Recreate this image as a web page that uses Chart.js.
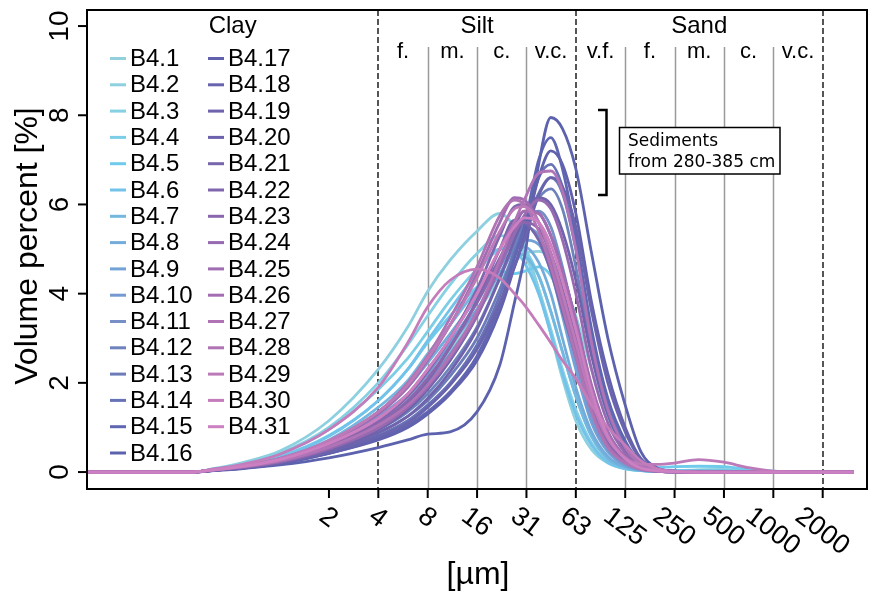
<!DOCTYPE html>
<html>
<head>
<meta charset="utf-8">
<title>Grain size distribution B4</title>
<script src="https://cdn.jsdelivr.net/npm/chart.js@4.4.1/dist/chart.umd.min.js"></script>
<style>
  body { margin: 0; background: #fff; }
</style>
</head>
<body>
<canvas id="grainChart" width="872" height="594"></canvas>
<script>
// --- Data ---
// grain size (µm) at which the volume percent is sampled
const sizes = [0.0654, 0.29, 0.39, 0.59, 0.98, 1.95, 3.9, 5.9, 7.8, 10.7, 15.6, 21.5, 26.4, 30.3, 37.1, 44, 51.8, 62.5, 78, 98, 125, 156, 195, 250, 350, 500, 700, 1000, 2000, 3100];

const B4_1  = [0,0,0.05,0.13,0.26,0.6,1.15,1.65,2.1,2.75,3.6,4.3,4.7,4.9,4.95,4.8,4.3,3.5,2.3,1.2,0.5,0.15,0.05,0.03,0.05,0.06,0.03,0,0,0];
const B4_2  = [0,0,0.08,0.22,0.47,1.15,2.3,3.25,4.05,4.75,5.4,5.8,5.5,5.1,4.1,3.1,2.1,1.15,0.5,0.2,0.07,0.03,0.02,0.02,0.01,0,0,0,0,0];
const B4_3  = [0,0,0.07,0.19,0.42,1.0,2.0,2.85,3.5,4.2,4.9,5.3,5.2,4.9,4.1,3.2,2.3,1.4,0.65,0.25,0.09,0.03,0.02,0.02,0.02,0.02,0.01,0,0,0];
const B4_4  = [0,0,0.07,0.18,0.4,0.95,1.85,2.55,3.15,3.85,4.55,5.0,5.1,5.0,4.4,3.6,2.7,1.7,0.8,0.3,0.1,0.04,0.03,0.03,0.04,0.04,0.02,0,0,0];
const B4_5  = [0,0,0.06,0.16,0.35,0.82,1.6,2.3,2.9,3.5,4.15,4.5,4.45,4.5,4.6,4.4,3.8,2.9,1.7,0.8,0.3,0.12,0.1,0.12,0.13,0.12,0.06,0.02,0,0];
const B4_6  = [0,0,0.06,0.16,0.34,0.8,1.6,2.3,2.95,3.65,4.45,5.0,4.95,4.7,4.0,3.1,2.2,1.3,0.6,0.22,0.08,0.03,0.02,0.02,0.02,0.02,0.01,0,0,0];
const B4_7  = [0,0,0.06,0.14,0.31,0.72,1.45,2.05,2.65,3.3,4.1,4.7,4.9,4.85,4.4,3.6,2.7,1.7,0.8,0.3,0.1,0.04,0.02,0.02,0.02,0.02,0.01,0,0,0];
const B4_8  = [0,0,0.05,0.13,0.29,0.68,1.35,1.9,2.45,3.1,3.9,4.6,5.0,5.05,4.7,4.0,3.0,1.9,0.9,0.35,0.12,0.04,0.02,0.02,0.02,0.01,0,0,0,0];
const B4_9  = [0,0,0.05,0.13,0.28,0.64,1.25,1.75,2.25,2.85,3.65,4.45,5.0,5.2,5.1,4.5,3.5,2.3,1.1,0.45,0.15,0.05,0.02,0.01,0.01,0,0,0,0,0];
const B4_10 = [0,0,0.05,0.12,0.27,0.62,1.2,1.7,2.2,2.9,3.8,4.75,5.35,5.5,5.3,4.7,3.7,2.5,1.2,0.5,0.17,0.05,0.02,0.01,0,0,0,0,0,0];
const B4_11 = [0,0,0.05,0.12,0.25,0.56,1.05,1.5,2.0,2.65,3.55,4.6,5.3,5.7,5.85,5.5,4.6,3.3,1.7,0.7,0.25,0.07,0.02,0.01,0,0,0,0,0,0];
const B4_12 = [0,0,0.04,0.11,0.23,0.52,0.95,1.35,1.75,2.35,3.25,4.35,5.1,5.6,6.15,6.35,5.9,4.6,2.7,1.3,0.5,0.15,0.04,0.01,0,0,0,0,0,0];
const B4_13 = [0,0,0.04,0.1,0.21,0.48,0.88,1.25,1.6,2.15,3.0,4.1,4.95,5.5,6.25,6.6,6.25,5.0,3.0,1.5,0.6,0.18,0.05,0.01,0,0,0,0,0,0];
const B4_14 = [0,0,0.04,0.1,0.2,0.45,0.82,1.15,1.5,2.0,2.85,3.95,4.9,5.5,6.6,6.9,6.4,5.1,3.1,1.6,0.65,0.2,0.05,0.01,0,0,0,0,0,0];
const B4_15 = [0,0,0.04,0.09,0.19,0.42,0.75,1.05,1.35,1.8,2.6,3.75,4.8,5.5,7.0,7.5,6.8,5.3,3.2,1.65,0.7,0.22,0.06,0.01,0,0,0,0,0,0];
const B4_16 = [0,0,0.03,0.08,0.16,0.32,0.55,0.72,0.85,0.9,1.35,2.4,3.8,4.8,6.9,7.95,7.7,6.8,4.9,3.0,1.5,0.45,0.1,0.02,0,0,0,0,0,0];
const B4_17 = [0,0,0.04,0.09,0.19,0.42,0.72,1.0,1.3,1.75,2.5,3.6,4.6,5.3,6.6,7.2,6.9,5.8,3.8,2.2,1.0,0.3,0.08,0.02,0,0,0,0,0,0];
const B4_18 = [0,0,0.04,0.1,0.2,0.45,0.8,1.1,1.45,1.95,2.75,3.8,4.6,5.2,6.2,6.6,6.4,5.5,3.6,2.0,0.9,0.28,0.07,0.02,0,0,0,0,0,0];
const B4_19 = [0,0,0.04,0.1,0.21,0.48,0.88,1.25,1.65,2.25,3.2,4.35,5.2,5.7,6.15,6.0,5.4,4.3,2.6,1.3,0.5,0.15,0.04,0.01,0,0,0,0,0,0];
const B4_20 = [0,0,0.05,0.11,0.23,0.52,0.95,1.4,1.85,2.5,3.5,4.7,5.5,5.85,5.8,5.3,4.5,3.4,1.9,0.9,0.33,0.1,0.03,0.01,0,0,0,0,0,0];
const B4_21 = [0,0,0.05,0.12,0.25,0.56,1.05,1.55,2.05,2.8,3.85,5.0,5.65,5.6,5.2,4.5,3.6,2.6,1.4,0.6,0.22,0.07,0.02,0,0,0,0,0,0,0];
const B4_22 = [0,0,0.05,0.12,0.26,0.6,1.15,1.7,2.25,3.0,4.1,5.3,5.95,6.0,5.6,4.9,3.9,2.8,1.5,0.65,0.24,0.07,0.02,0,0,0,0,0,0,0];
const B4_23 = [0,0,0.05,0.12,0.25,0.57,1.1,1.6,2.1,2.8,3.8,4.8,5.4,5.6,5.45,4.9,4.1,3.0,1.7,0.75,0.28,0.08,0.02,0,0,0,0,0,0,0];
const B4_24 = [0,0,0.05,0.11,0.23,0.52,0.98,1.45,1.9,2.55,3.5,4.6,5.35,5.75,6.1,5.9,5.2,4.0,2.3,1.1,0.42,0.13,0.03,0.01,0,0,0,0,0,0];
const B4_25 = [0,0,0.06,0.14,0.3,0.68,1.3,1.9,2.5,3.3,4.45,5.6,6.15,6.1,5.6,4.8,3.8,2.7,1.4,0.6,0.22,0.07,0.02,0,0,0,0,0,0,0];
const B4_26 = [0,0,0.05,0.13,0.27,0.62,1.2,1.75,2.3,3.0,4.0,5.0,5.6,5.85,5.8,5.3,4.5,3.4,1.95,0.9,0.33,0.1,0.03,0.01,0,0,0,0,0,0];
const B4_27 = [0,0,0.05,0.12,0.25,0.56,1.05,1.5,1.95,2.6,3.6,4.75,5.6,6.1,6.7,6.75,6.3,5.0,2.9,1.4,0.55,0.17,0.04,0.01,0,0,0,0,0,0];
const B4_28 = [0,0,0.06,0.14,0.3,0.7,1.35,2.0,2.6,3.45,4.6,5.75,6.1,6.0,5.4,4.6,3.7,2.6,1.35,0.55,0.2,0.06,0.02,0,0,0,0,0,0,0];
const B4_29 = [0,0,0.06,0.14,0.3,0.7,1.35,1.95,2.55,3.3,4.35,5.4,5.9,5.95,5.6,4.9,4.0,2.9,1.6,0.75,0.32,0.18,0.17,0.2,0.28,0.22,0.1,0.02,0,0];
const B4_30 = [0,0,0.07,0.18,0.4,0.95,1.9,2.9,3.7,4.3,4.55,4.35,4.0,3.75,3.3,2.9,2.5,2.1,1.5,1.0,0.6,0.25,0.08,0.02,0,0,0,0,0,0];
const B4_31 = [0,0,0.05,0.13,0.28,0.64,1.2,1.75,2.3,3.0,4.0,5.0,5.5,5.7,5.6,5.1,4.3,3.2,1.8,0.8,0.3,0.09,0.03,0.01,0,0,0,0,0,0];

const seriesValues = [B4_1, B4_2, B4_3, B4_4, B4_5, B4_6, B4_7, B4_8, B4_9, B4_10, B4_11, B4_12, B4_13, B4_14, B4_15, B4_16,
                      B4_17, B4_18, B4_19, B4_20, B4_21, B4_22, B4_23, B4_24, B4_25, B4_26, B4_27, B4_28, B4_29, B4_30, B4_31];
const sampleLabels = seriesValues.map((_, i) => 'B4.' + (i + 1));
const sampleColors = ['#92d0dc', '#8dd0df', '#85d0e2', '#7ccee6', '#6ecbec', '#72c2ea', '#74b8e0', '#73acdb',
                      '#72a2d6', '#7599d0', '#778fc6', '#6e83bb', '#6d7cb9', '#6873b7', '#6067b2', '#5c62ae',
                      '#6261ae', '#6a63ad', '#7063ad', '#6c62ac', '#7866ad', '#8066ae', '#8a66ae', '#9769b0',
                      '#a06cb2', '#a46db2', '#b074b6', '#b073b3', '#bc7ab9', '#c47cbb', '#cc80c2'];

// axis ticks (phi scale) and class boundaries
const xTickValues = [1.953125, 3.90625, 7.8125, 15.625, 31.25, 62.5, 125, 250, 500, 1000, 2000];
const xTickLabels = ['2', '4', '8', '16', '31', '63', '125', '250', '500', '1000', '2000'];
const yTickValues = [0, 2, 4, 6, 8, 10];
const classNames = ['Clay', 'Silt', 'Sand'];
const classBounds = [0.0654, 3.90625, 62.5, 2000];
const subClassNames = ['f.', 'm.', 'c.', 'v.c.', 'v.f.', 'f.', 'm.', 'c.', 'v.c.'];
const subClassBounds = [3.90625, 7.8125, 15.625, 31.25, 62.5, 125, 250, 500, 1000, 2000];
const dashedLines = [3.90625, 62.5, 2000];
const solidLines = [7.8125, 15.625, 31.25, 125, 250, 500, 1000];

const FONT = '"Liberation Sans", Arial, sans-serif';

// --- Drawing of frame, class lines, labels and legend ---
const overlay = {
    id: 'overlay',
    beforeDatasetsDraw(chart) {
        const { ctx, chartArea: a, scales: { x } } = chart;
        ctx.save();
        ctx.strokeStyle = '#9a9a9a';
        ctx.lineWidth = 1.5;
        solidLines.forEach(v => {
            const px = Math.round(x.getPixelForValue(v)) + 0.5;
            ctx.beginPath(); ctx.moveTo(px, 47); ctx.lineTo(px, a.bottom); ctx.stroke();
        });
        ctx.strokeStyle = '#555';
        ctx.lineWidth = 2;
        ctx.setLineDash([6, 3]);
        dashedLines.forEach(v => {
            const px = Math.round(x.getPixelForValue(v));
            ctx.beginPath(); ctx.moveTo(px, a.top); ctx.lineTo(px, a.bottom); ctx.stroke();
        });
        ctx.restore();
    },
    afterDraw(chart) {
        const { ctx, chartArea: a, scales: { x, y } } = chart;
        ctx.save();

        // frame
        ctx.strokeStyle = '#000';
        ctx.lineWidth = 2;
        ctx.strokeRect(a.left, a.top, a.right - a.left, a.bottom - a.top);

        // y ticks, rotated labels
        ctx.fillStyle = '#000';
        ctx.font = '28px ' + FONT;
        ctx.textAlign = 'center';
        ctx.textBaseline = 'middle';
        yTickValues.forEach(v => {
            const py = y.getPixelForValue(v);
            ctx.beginPath(); ctx.moveTo(a.left - 9, py); ctx.lineTo(a.left, py); ctx.stroke();
            ctx.save();
            ctx.translate(59, py);
            ctx.rotate(-Math.PI / 2);
            ctx.fillText(String(v), 0, 1);
            ctx.restore();
        });

        // x ticks, slanted labels
        const ang = 37 * Math.PI / 180;
        ctx.font = '27px ' + FONT;
        xTickValues.forEach((v, i) => {
            const px = x.getPixelForValue(v);
            ctx.beginPath(); ctx.moveTo(px, a.bottom); ctx.lineTo(px, a.bottom + 9); ctx.stroke();
            const w = ctx.measureText(xTickLabels[i]).width;
            const h = 19;
            const boxH = w * Math.sin(ang) + h * Math.cos(ang);
            ctx.save();
            ctx.translate(px, 505 + boxH / 2);
            ctx.rotate(ang);
            ctx.fillText(xTickLabels[i], 0, 1);
            ctx.restore();
        });

        // axis titles
        ctx.font = '32px ' + FONT;
        ctx.fillText('[µm]', 478, 575);
        ctx.save();
        ctx.translate(28, 246);
        ctx.rotate(-Math.PI / 2);
        ctx.fillText('Volume percent [%]', 0, 0);
        ctx.restore();

        // class names
        ctx.font = '24px ' + FONT;
        ctx.textBaseline = 'alphabetic';
        classNames.forEach((name, i) => {
            const px = (x.getPixelForValue(classBounds[i]) + x.getPixelForValue(classBounds[i + 1])) / 2;
            ctx.fillText(name, px, 33);
        });
        ctx.font = '22px ' + FONT;
        subClassNames.forEach((name, i) => {
            const px = (x.getPixelForValue(subClassBounds[i]) + x.getPixelForValue(subClassBounds[i + 1])) / 2;
            ctx.fillText(name, px, 58);
        });

        // legend, two columns
        ctx.font = '24px ' + FONT;
        ctx.textAlign = 'left';
        ctx.textBaseline = 'middle';
        ctx.lineWidth = 3;
        sampleLabels.forEach((lab, i) => {
            const col = i < 16 ? 0 : 1;
            const row = i < 16 ? i : i - 16;
            const lx = col === 0 ? 110 : 208;
            const ly = 58.5 + row * 26.3;
            ctx.strokeStyle = sampleColors[i];
            ctx.beginPath(); ctx.moveTo(lx, ly); ctx.lineTo(lx + 16, ly); ctx.stroke();
            ctx.fillStyle = '#000';
            ctx.fillText(lab, lx + 20, ly + 1);
        });

        // annotation bracket and box
        ctx.strokeStyle = '#000';
        ctx.lineWidth = 2.5;
        ctx.beginPath();
        ctx.moveTo(598, 110); ctx.lineTo(606.5, 110); ctx.lineTo(606.5, 195); ctx.lineTo(598, 195);
        ctx.stroke();
        ctx.fillStyle = '#fff';
        ctx.lineWidth = 1.5;
        ctx.fillRect(619.5, 127.5, 160.5, 46.5);
        ctx.strokeRect(619.5, 127.5, 160.5, 46.5);
        ctx.fillStyle = '#000';
        ctx.font = '17px "DejaVu Sans", Verdana, sans-serif';
        ctx.textBaseline = 'alphabetic';
        ctx.fillText('Sediments', 628, 146);
        ctx.fillText('from 280-385 cm', 628, 167);

        ctx.restore();
    }
};

// --- Chart ---
const datasets = seriesValues.map((vals, i) => ({
    label: sampleLabels[i],
    data: sizes.map((s, j) => ({ x: s, y: vals[j] })),
    borderColor: sampleColors[i],
    borderWidth: 2.8,
    pointRadius: 0,
    cubicInterpolationMode: 'monotone',
    order: seriesValues.length - i
}));

new Chart(document.getElementById('grainChart').getContext('2d'), {
    type: 'line',
    data: { datasets: datasets },
    options: {
        responsive: false,
        animation: false,
        layout: { padding: { left: 87, right: 5, top: 10, bottom: 105 } },
        scales: {
            x: { type: 'logarithmic', display: false, min: 0.0654, max: 3725 },
            y: { display: false, min: -0.38, max: 10.36 }
        },
        plugins: {
            legend: { display: false },
            tooltip: { enabled: false }
        }
    },
    plugins: [overlay]
});
</script>
</body>
</html>
